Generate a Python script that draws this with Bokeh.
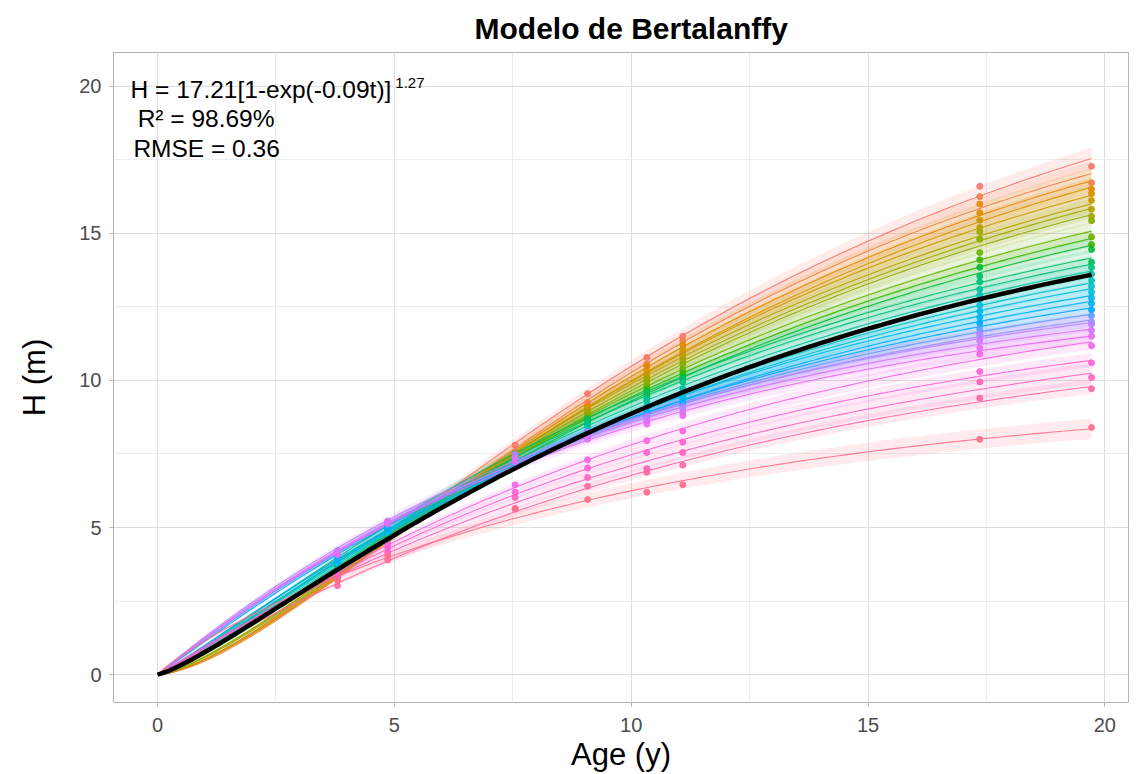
import numpy as np
from bokeh.plotting import figure
from bokeh.models import Label, FixedTicker, Range1d
from bokeh.embed import file_html
from bokeh.resources import INLINE

# ---------------- data ----------------
ages = [3.8, 4.86, 7.55, 9.08, 10.33, 11.09, 17.36, 19.72]

tree_01 = [3.62, 4.65, 7.80, 9.55, 10.78, 11.50, 16.60, 17.28]
tree_02 = [3.40, 4.62, 7.55, 9.25, 10.55, 11.35, 16.25, 16.72]
tree_03 = [3.52, 4.58, 7.42, 9.10, 10.48, 11.20, 16.00, 16.50]
tree_04 = [3.38, 4.55, 7.40, 9.05, 10.30, 10.95, 15.70, 16.35]
tree_05 = [3.48, 4.60, 7.38, 8.98, 10.20, 11.05, 15.45, 16.12]
tree_06 = [3.56, 4.70, 7.45, 9.00, 10.10, 10.82, 15.20, 15.82]
tree_07 = [3.62, 4.68, 7.40, 8.90, 10.05, 10.68, 15.05, 15.58]
tree_08 = [3.50, 4.62, 7.30, 8.82, 9.95, 10.55, 14.80, 15.43]
tree_09 = [3.66, 4.78, 7.35, 8.72, 9.80, 10.38, 14.35, 14.88]
tree_10 = [3.72, 4.82, 7.34, 8.66, 9.70, 10.25, 14.10, 14.62]
tree_11 = [3.58, 4.66, 7.25, 8.56, 9.50, 10.12, 13.85, 14.45]
tree_12 = [3.96, 5.15, 7.50, 8.70, 9.62, 10.05, 13.55, 14.02]
tree_13 = [3.86, 4.98, 7.42, 8.55, 9.40, 9.95, 13.35, 13.84]
tree_14 = [3.80, 4.90, 7.28, 8.45, 9.30, 9.72, 13.10, 13.62]
tree_15 = [3.70, 4.76, 7.15, 8.25, 9.12, 9.60, 12.90, 13.40]
tree_16 = [3.76, 4.80, 7.12, 8.28, 9.05, 9.52, 12.75, 13.20]
tree_17 = [3.82, 4.85, 7.18, 8.20, 9.02, 9.40, 12.55, 13.00]
tree_18 = [3.90, 4.98, 7.25, 8.26, 8.96, 9.38, 12.35, 12.80]
tree_19 = [3.85, 4.92, 7.15, 8.12, 8.86, 9.25, 12.15, 12.62]
tree_20 = [4.02, 5.05, 7.28, 8.22, 8.88, 9.20, 11.95, 12.40]
tree_21 = [4.06, 5.10, 7.35, 8.18, 8.80, 9.15, 11.75, 12.20]
tree_22 = [4.10, 5.16, 7.32, 8.15, 8.75, 9.08, 11.60, 12.00]
tree_23 = [4.22, 5.22, 7.48, 8.25, 8.78, 9.05, 11.55, 11.90]
tree_24 = [4.15, 5.20, 7.35, 8.12, 8.65, 8.92, 11.35, 11.70]
tree_25 = [4.08, 5.14, 7.22, 8.00, 8.52, 8.80, 11.10, 11.50]
tree_26 = [3.48, 4.42, 6.45, 7.30, 7.95, 8.28, 10.90, 11.18]
tree_27 = [3.40, 4.30, 6.20, 7.02, 7.55, 7.90, 10.30, 10.60]
tree_28 = [3.28, 4.15, 6.02, 6.70, 7.00, 7.55, 9.95, 10.10]
tree_29 = [3.02, 3.90, 5.62, 6.40, 6.88, 7.12, 9.40, 9.72]
tree_30 = [3.20, 4.02, 5.65, 5.95, 6.20, 6.45, 8.00, 8.40]

trees = [tree_01, tree_02, tree_03, tree_04, tree_05, tree_06, tree_07, tree_08,
         tree_09, tree_10, tree_11, tree_12, tree_13, tree_14, tree_15, tree_16,
         tree_17, tree_18, tree_19, tree_20, tree_21, tree_22, tree_23, tree_24,
         tree_25, tree_26, tree_27, tree_28, tree_29, tree_30]

# global model (annotated)
A_global, k_global, c_global = 17.21, 0.09, 1.27
x_ticks = [0, 5, 10, 15, 20]
y_ticks = [0, 5, 10, 15, 20]

# ---------------- helpers ----------------
def hcl_hex(h, c=100.0, l=65.0):
    hr = np.deg2rad(h)
    u, v = c * np.cos(hr), c * np.sin(hr)
    Xn, Yn, Zn = 95.047, 100.0, 108.883
    den = Xn + 15 * Yn + 3 * Zn
    un, vn = 4 * Xn / den, 9 * Yn / den
    Y = Yn * ((l + 16) / 116) ** 3
    up = u / (13 * l) + un
    vp = v / (13 * l) + vn
    X = Y * 9 * up / (4 * vp)
    Z = Y * (12 - 3 * up - 20 * vp) / (4 * vp)
    M = np.array([[3.2406, -1.5372, -0.4986],
                  [-0.9689, 1.8758, 0.0415],
                  [0.0557, -0.2040, 1.0570]])
    rgb = M @ (np.array([X, Y, Z]) / 100.0)
    rgb = np.where(rgb > 0.0031308, 1.055 * np.clip(rgb, 0, None) ** (1 / 2.4) - 0.055, 12.92 * rgb)
    rgb = np.clip(rgb, 0, 1)
    return "#%02x%02x%02x" % tuple(int(round(x * 255)) for x in rgb)

n = len(trees)
colors = [hcl_hex(15 + 360.0 * i / n) for i in range(n)]

T = np.array(ages)
ks = np.linspace(0.004, 0.45, 224)
cs = np.linspace(0.5, 3.5, 151)
F = (1.0 - np.exp(-ks[:, None, None] * T[None, None, :])) ** cs[None, :, None]
FF = (F * F).sum(-1)

def fit(y):
    y = np.asarray(y, dtype=float)
    A = (F * y).sum(-1) / FF
    sse = ((A[..., None] * F - y) ** 2).sum(-1)
    i, j = np.unravel_index(np.argmin(sse), sse.shape)
    return A[i, j], ks[i], cs[j], np.sqrt(sse[i, j] / len(y))

tt = np.linspace(0, max(ages), 160)

# ---------------- figure ----------------
FONT = "Liberation Sans"
p = figure(width=1141, height=774, output_backend="svg", toolbar_location=None,
           x_range=Range1d(-0.93, 20.5), y_range=Range1d(-0.95, 21.15),
           min_border_left=113, min_border_right=13, min_border_top=52, min_border_bottom=70)

p.title.text = "Modelo de Bertalanffy"
p.title.text_font = FONT
p.title.text_font_size = "30px"
p.title.text_font_style = "bold"
p.title.text_color = "black"
p.title.align = "left"
p.title.offset = 361
p.title.standoff = 16

p.background_fill_color = "white"
p.outline_line_color = "#B3B3B3"
p.outline_line_width = 1

for ax, ticks in ((p.xaxis, x_ticks), (p.yaxis, y_ticks)):
    mids = [t + 2.5 for t in ticks[:-1]]
    ax.ticker = FixedTicker(ticks=ticks, minor_ticks=mids)
    ax.axis_line_color = None
    ax.major_tick_line_color = "#B3B3B3"
    ax.major_tick_out = 4
    ax.major_tick_in = 0
    ax.minor_tick_line_color = None
    ax.major_label_text_font = FONT
    ax.major_label_text_font_size = "20px"
    ax.major_label_text_color = "#4D4D4D"
    ax.axis_label_text_font = FONT
    ax.axis_label_text_font_size = "31px"
    ax.axis_label_text_font_style = "normal"
    ax.axis_label_text_color = "black"

p.xaxis.axis_label = "Age (y)"
p.yaxis.axis_label = "H (m)"
p.xaxis.major_label_standoff = 11
p.xaxis.axis_label_standoff = 2
p.yaxis.major_label_standoff = 8
p.yaxis.axis_label_standoff = 24

for g in (p.xgrid, p.ygrid):
    g.grid_line_color = "#DEDEDE"
    g.grid_line_width = 1
    g.minor_grid_line_color = "#EDEDED"
    g.minor_grid_line_width = 1

fits = [fit(y) for y in trees]

# confidence ribbons
for (A, k, c, rmse), col in zip(fits, colors):
    hh = A * (1 - np.exp(-k * tt)) ** c
    hw = (0.12 + 1.5 * rmse) * hh / hh[-1]
    p.varea(x=tt, y1=hh - hw, y2=hh + hw, fill_color=col, fill_alpha=0.14)

# fitted lines
for (A, k, c, rmse), col in zip(fits, colors):
    hh = A * (1 - np.exp(-k * tt)) ** c
    p.line(tt, hh, line_color=col, line_width=1.1, line_alpha=0.9)

# observations
for y, col in zip(trees, colors):
    p.scatter(ages, y, size=6, marker="circle", fill_color=col, line_color=col,
              fill_alpha=0.9, line_alpha=0.9)

# global fit
hg = A_global * (1 - np.exp(-k_global * tt)) ** c_global
p.line(tt, hg, line_color="black", line_width=4.5)

# annotation
p.add_layout(Label(x=-0.57, y=19.9, text="H = 17.21[1-exp(-0.09t)]", text_font=FONT,
                   text_font_size="24.5px", text_baseline="middle", text_color="black"))
p.add_layout(Label(x=5.02, y=20.12, text="1.27", text_font=FONT,
                   text_font_size="15px", text_baseline="middle", text_color="black"))
p.add_layout(Label(x=-0.42, y=18.92, text="R\u00b2 = 98.69%", text_font=FONT,
                   text_font_size="24.5px", text_baseline="middle", text_color="black"))
p.add_layout(Label(x=-0.51, y=17.9, text="RMSE = 0.36", text_font=FONT,
                   text_font_size="24.5px", text_baseline="middle", text_color="black"))

open("out.html", "w").write(file_html(p, INLINE))
